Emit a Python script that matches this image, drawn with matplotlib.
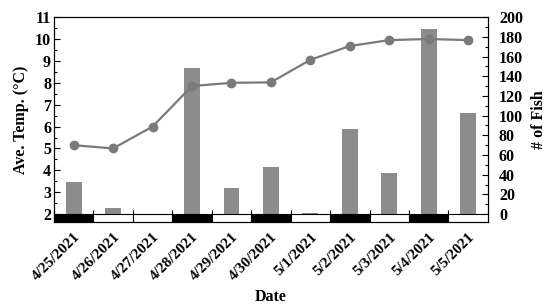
import matplotlib
matplotlib.use("Agg")
import matplotlib.pyplot as plt
from matplotlib.patches import Rectangle
from matplotlib.ticker import MultipleLocator, FixedLocator

dates = ["4/25/2021", "4/26/2021", "4/27/2021", "4/28/2021", "4/29/2021", "4/30/2021",
         "5/1/2021", "5/2/2021", "5/3/2021", "5/4/2021", "5/5/2021"]
fish = [33, 6, 0, 148, 27, 48, 1, 86, 42, 188, 103]
temp = [5.15, 5.0, 6.0, 7.85, 8.0, 8.02, 9.05, 9.68, 9.95, 10.0, 9.95]
strip = [1, 0, 0, 1, 0, 1, 0, 1, 0, 1, 0]  # 1 = black, 0 = white

plt.rcParams['font.family'] = ['Liberation Serif', 'DejaVu Serif']
plt.rcParams['font.weight'] = 'bold'

fig = plt.figure(figsize=(5.5, 3.06), dpi=100)
ax = fig.add_axes([0.098, 0.2745, 0.789, 0.6695])
ax2 = ax.twinx()

n = len(dates)
x = list(range(n))
ymin = 1.64
ax.set_xlim(-0.5, n - 0.5)
ax.set_ylim(ymin, 11)
ax2.set_ylim((ymin - 2) * 200 / 9, 200)

# bars on right axis
ax2.bar(x, fish, width=0.4, color='#8c8c8c', zorder=1)
# line on left axis, draw above bars
ax.set_zorder(ax2.get_zorder() + 1)
ax.patch.set_visible(False)
ax.plot(x, temp, color='#7a7a7a', lw=1.6, marker='o', ms=6, zorder=3)

# strip of day cells
for i, s in enumerate(strip):
    ax.add_patch(Rectangle((i - 0.5, ymin), 1, 2 - ymin,
                           facecolor='black' if s else 'white',
                           edgecolor='black', lw=0.8, zorder=2))

ax.set_yticks(range(2, 12))
ax.yaxis.set_minor_locator(MultipleLocator(0.5))
ax2.set_yticks(range(0, 201, 20))
ax2.yaxis.set_minor_locator(MultipleLocator(10))

ax.set_xticks(x)
ax.set_xticklabels(dates, rotation=45, ha='right', rotation_mode='anchor')
ax.xaxis.set_minor_locator(FixedLocator([i + 0.5 for i in range(-1, n)]))
ax.tick_params(axis='x', which='major', length=0, pad=6, labelsize=11)
ax.tick_params(axis='x', which='minor', direction='in', length=8.5, width=0.8)

ax.tick_params(axis='y', which='major', direction='in', length=4, labelsize=11.5, width=0.8, pad=2)
ax.tick_params(axis='y', which='minor', direction='in', length=2, width=0.8)
ax2.tick_params(axis='y', which='major', direction='in', length=4, labelsize=11.5, width=0.8, pad=8)
ax2.tick_params(axis='y', which='minor', direction='in', length=2, width=0.8)

for a in (ax, ax2):
    for sp in a.spines.values():
        sp.set_linewidth(0.8)

ax.set_ylabel('Ave. Temp. (°C)', fontsize=11.5, fontweight='bold', labelpad=4)
ax2.set_ylabel('# of Fish', fontsize=11.5, fontweight='bold', labelpad=6)
ax.set_xlabel('Date', fontsize=11.5, fontweight='bold', labelpad=4)

fig.savefig('out.png', dpi=100)
